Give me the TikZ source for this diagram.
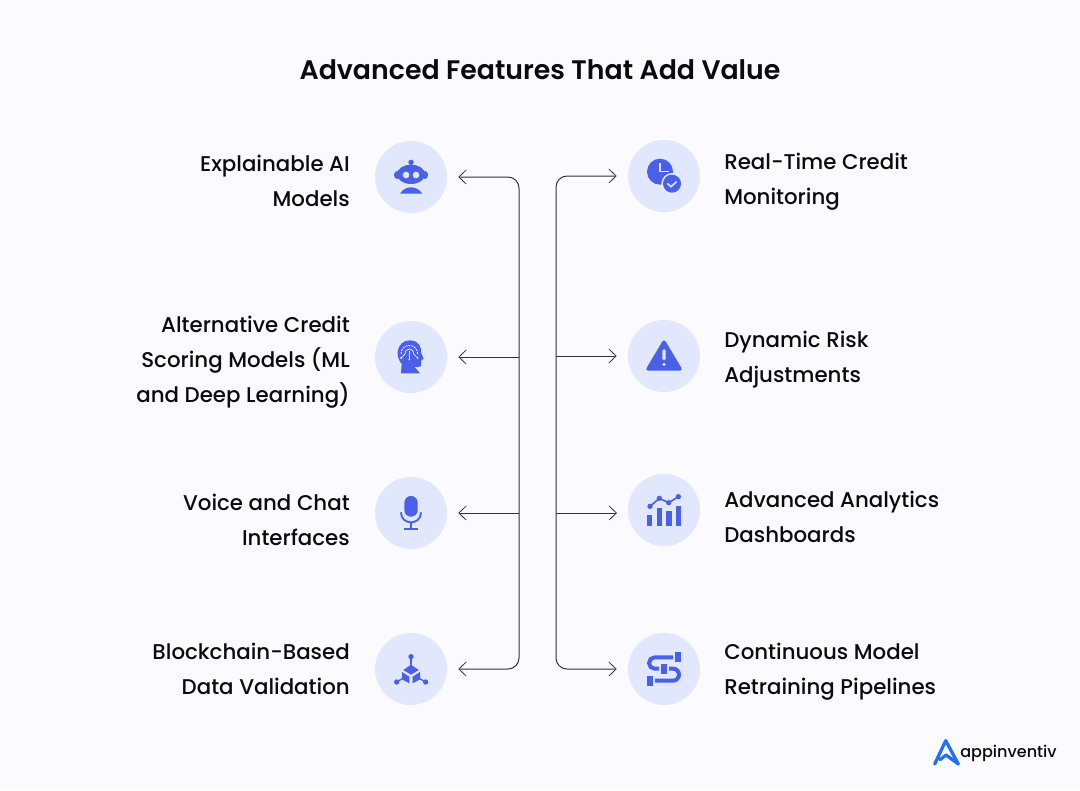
\documentclass[tikz,border=0pt]{standalone}
\usepackage{fontspec}
\setmainfont{Poppins}[UprightFont={* Medium},BoldFont={* SemiBold}]
\usetikzlibrary{arrows.meta}
\definecolor{bgc}{HTML}{FBFBFF}
\definecolor{disc}{HTML}{E1E7FD}
\definecolor{ico}{HTML}{4A60E8}
\definecolor{wire}{HTML}{333333}
\definecolor{logoblue}{HTML}{1F6FFB}
\definecolor{ink}{HTML}{0B0B0F}
\tikzset{
  x=0.75pt,y=-0.75pt,
  iconbg/.style={circle,fill=disc,minimum size=54pt,inner sep=0pt},
  barb/.tip={Straight Barb[length=5.5pt,width=10.5pt,line width=0.6pt]},
  conn/.style={wire,line width=0.75pt,-barb,shorten >=8.25pt},
  connr/.style={wire,line width=0.75pt,-barb},
  conntwo/.style={wire,line width=0.75pt,barb-barb,shorten >=8.25pt,shorten <=8.25pt,rounded corners=8.25pt},
  lefttxt/.style={text=ink,align=right,anchor=east,inner sep=0pt,font=\fontsize{16pt}{26.25pt}\selectfont},
  righttxt/.style={text=ink,align=left,anchor=west,inner sep=0pt,font=\fontsize{16pt}{26.25pt}\selectfont},
  titletxt/.style={text=ink,inner sep=0pt,font=\fontsize{20.1pt}{25pt}\selectfont\bfseries},
  zoomed/.style={x=0.25pt,y=-0.25pt},
}
\begin{document}
\begin{tikzpicture}
\useasboundingbox (0,0) rectangle (1080,790);
\fill[bgc] (0,0) rectangle (1080,790);
\node[titletxt] (title) at (540,70) {Advanced Features That Add Value};

\node[iconbg] (c1) at (411,177) {};
\node[iconbg] (c2) at (411,357) {};
\node[iconbg] (c3) at (411,513) {};
\node[iconbg] (c4) at (411,669) {};
\node[iconbg] (c5) at (664,176) {};
\node[iconbg] (c6) at (664,356) {};
\node[iconbg] (c7) at (664,510) {};
\node[iconbg] (c8) at (664,669) {};

\node[lefttxt] (t1) at (350,181) {Explainable AI\\Models};
\node[lefttxt] (t2) at (350,362) {Alternative Credit\\Scoring Models (ML\\and Deep Learning)};
\node[lefttxt] (t3) at (350,520) {Voice and Chat\\Interfaces};
\node[lefttxt] (t4) at (350,669) {Blockchain-Based\\Data Validation};
\node[righttxt] (t5) at (724,182) {Real-Time Credit\\Monitoring};
\node[righttxt] (t6) at (724,360) {Dynamic Risk\\Adjustments};
\node[righttxt] (t7) at (724,517) {Advanced Analytics\\Dashboards};
\node[righttxt] (t8) at (724,672) {Continuous Model\\Retraining Pipelines};

% connectors
\coordinate (lt) at (519,177);
\coordinate (lb) at (519,669);
\coordinate (j2) at (519,357);
\coordinate (j3) at (519,513);
\coordinate (rt) at (556,176);
\coordinate (rb) at (556,669);
\coordinate (k2) at (556,356);
\coordinate (k3) at (556,513);
\coordinate (tip7) at (617,513);
\draw[conntwo] (c1.east) -- (lt) -- (lb) -- (c4.east);
\draw[conn] (j2) -- (c2.east);
\draw[conn] (j3) -- (c3.east);
\draw[conntwo] (c5.west) -- (rt) -- (rb) -- (c8.west);
\draw[conn] (k2) -- (c6.west);
\draw[connr] (k3) -- (tip7);

% robot
\begin{scope}[shift={(365,130)},zoomed]
\fill[ico] (138,97) circle (8);
\fill[ico] (134,97) rectangle (142,110);
\fill[ico] (138,133) ellipse (42 and 29);
\fill[ico] (96,135) ellipse (9 and 12);
\fill[ico] (180,135) ellipse (9 and 12);
\fill[disc] (123,135) circle (10);
\fill[disc] (153,135) circle (10);
\fill[ico] (105,191) .. controls (113,178) and (125,172) .. (138,172) .. controls (151,172) and (163,178) .. (172,191) -- cycle;
\end{scope}
% head
\begin{scope}[shift={(365,130)},zoomed]
\fill[ico] (134,631) .. controls (160,631) and (170,650) .. (168,668) -- (176,686) -- (168,692) -- (168,708) .. controls (165,712) and (155,712) .. (148,710) -- (165,730) -- (108,730) -- (110,702) .. controls (100,690) and (97,675) .. (98,665) .. controls (100,645) and (115,631) .. (134,631) -- cycle;
\draw[disc,line width=0.7pt,dash pattern=on 1.6pt off 0.7pt] (108,672) .. controls (108,638) and (158,638) .. (158,672);
\draw[disc,line width=0.6pt] (120,672) .. controls (120,652) and (146,652) .. (146,672);
\draw[disc,line width=0.6pt] (133,662) -- (133,688);
\draw[disc,line width=0.6pt] (120,672) -- (108,684);
\draw[disc,line width=0.6pt] (146,672) -- (158,684);
\fill[disc] (133,688) circle (3) (108,684) circle (3) (158,684) circle (3);
\end{scope}
% mic
\begin{scope}[shift={(365,470)},zoomed]
\fill[ico,rounded corners=4.9pt] (118,78) rectangle (158,140);
\draw[ico,line width=1.4pt] (108,127) .. controls (108,167) and (168,167) .. (168,127);
\draw[ico,line width=1.4pt] (138,157) -- (138,176);
\draw[ico,line width=1.4pt] (118,176) -- (158,176);
\end{scope}
% blockchain
\begin{scope}[shift={(365,470)},zoomed]
\draw[ico,line width=1pt] (138,560) -- (138,590);
\draw[ico,line width=1pt] (95,636) -- (115,624);
\draw[ico,line width=1pt] (182,636) -- (160,624);
\fill[ico] (138,560) circle (8) (95,636) circle (8) (182,636) circle (8);
\fill[ico] (138,584) -- (161,600) -- (138,614) -- (115,600) -- cycle;
\fill[ico] (111,606) -- (133,620) -- (133,640) -- (111,628) -- cycle;
\fill[ico] (143,620) -- (165,606) -- (165,628) -- (143,640) -- cycle;
\end{scope}
% clock
\begin{scope}[shift={(545,130)},zoomed]
\fill[ico] (345,125) circle (39);
\draw[disc,line width=1.1pt] (345,98) -- (345,125) -- (372,125);
\fill[disc] (381,161) circle (32);
\fill[ico] (381,161) circle (27);
\draw[disc,line width=1.2pt,line cap=round,line join=round] (368,161) -- (378,170) -- (394,156);
\end{scope}
% warning
\begin{scope}[shift={(545,130)},zoomed]
\fill[ico,rounded corners=2.5pt] (357,626) -- (414,722) -- (300,722) -- cycle;
\fill[disc,rounded corners=1pt] (352,658) rectangle (362,690);
\fill[disc] (357,703) circle (5.5);
\end{scope}
% bars
\begin{scope}[shift={(545,465)},zoomed]
\fill[ico] (306,150) rectangle (322,183);
\fill[ico] (335,128) rectangle (352,183);
\fill[ico] (364,138) rectangle (380,183);
\fill[ico] (392,122) rectangle (408,183);
\draw[ico,line width=1.2pt] (315,124) -- (343,100) -- (371,113) -- (400,95);
\fill[ico] (315,124) circle (8) (343,100) circle (8) (371,113) circle (8) (400,95) circle (8);
\end{scope}
% pipeline
\begin{scope}[shift={(545,465)},zoomed]
\fill[ico] (390,562) rectangle (408,590);
\fill[ico] (306,633) rectangle (324,662);
\fill[ico] (348,598) rectangle (366,627);
\draw[ico,line width=3pt,rounded corners=4.25pt] (384,577) -- (312,577) -- (312,611) -- (342,611);
\draw[ico,line width=3pt,rounded corners=4.5pt] (372,611) -- (402,611) -- (402,647) -- (330,647);
\end{scope}
% logo
\begin{scope}[shift={(920,725)},zoomed]
\draw[logoblue,line width=2.4pt,line join=round,line cap=round] (44,117) -- (77,47) -- (115,117) -- (78,90) -- (60,104);
\end{scope}
\node[inner sep=0pt,anchor=base west,text=ink,font=\fontsize{12.05pt}{15pt}\selectfont] (logo) at (960,757) {appinventiv};
\end{tikzpicture}
\end{document}
